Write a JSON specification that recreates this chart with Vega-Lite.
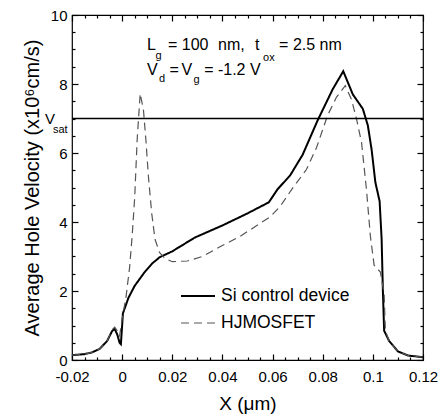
{
  "$schema": "https://vega.github.io/schema/vega-lite/v6.json",
  "width": 351,
  "height": 345,
  "autosize": {"type": "none"},
  "padding": {"left": 72, "top": 15, "right": 22, "bottom": 55},
  "background": "white",
  "config": {
    "view": {"stroke": "black", "strokeWidth": 1.2},
    "font": "Liberation Sans",
    "axis": {"domain": false, "tickColor": "black", "labelColor": "black", "titleColor": "black", "grid": false, "labelFont": "Liberation Sans", "titleFont": "Liberation Sans", "titleFontWeight": "normal", "tickWidth": 1.2}
  },
  "datasets": {
    "curves": [
      {"series": "Si control device", "x": -0.0200, "v": 0.14},
      {"series": "Si control device", "x": -0.0150, "v": 0.17},
      {"series": "Si control device", "x": -0.0120, "v": 0.22},
      {"series": "Si control device", "x": -0.0090, "v": 0.32},
      {"series": "Si control device", "x": -0.0060, "v": 0.55},
      {"series": "Si control device", "x": -0.0040, "v": 0.84},
      {"series": "Si control device", "x": -0.0030, "v": 0.90},
      {"series": "Si control device", "x": -0.0020, "v": 0.75},
      {"series": "Si control device", "x": -0.0010, "v": 0.50},
      {"series": "Si control device", "x": -0.0005, "v": 0.46},
      {"series": "Si control device", "x": 0.0000, "v": 1.00},
      {"series": "Si control device", "x": 0.0003, "v": 1.35},
      {"series": "Si control device", "x": 0.0025, "v": 1.80},
      {"series": "Si control device", "x": 0.0050, "v": 2.15},
      {"series": "Si control device", "x": 0.0090, "v": 2.55},
      {"series": "Si control device", "x": 0.0120, "v": 2.80},
      {"series": "Si control device", "x": 0.0150, "v": 2.98},
      {"series": "Si control device", "x": 0.0200, "v": 3.15},
      {"series": "Si control device", "x": 0.0290, "v": 3.55},
      {"series": "Si control device", "x": 0.0400, "v": 3.90},
      {"series": "Si control device", "x": 0.0500, "v": 4.25},
      {"series": "Si control device", "x": 0.0585, "v": 4.57},
      {"series": "Si control device", "x": 0.0620, "v": 4.95},
      {"series": "Si control device", "x": 0.0670, "v": 5.35},
      {"series": "Si control device", "x": 0.0720, "v": 5.95},
      {"series": "Si control device", "x": 0.0780, "v": 6.95},
      {"series": "Si control device", "x": 0.0840, "v": 7.85},
      {"series": "Si control device", "x": 0.0882, "v": 8.37},
      {"series": "Si control device", "x": 0.0920, "v": 7.70},
      {"series": "Si control device", "x": 0.0960, "v": 7.28},
      {"series": "Si control device", "x": 0.0980, "v": 6.80},
      {"series": "Si control device", "x": 0.0995, "v": 6.10},
      {"series": "Si control device", "x": 0.1010, "v": 5.15},
      {"series": "Si control device", "x": 0.1027, "v": 4.60},
      {"series": "Si control device", "x": 0.1035, "v": 3.50},
      {"series": "Si control device", "x": 0.1040, "v": 2.00},
      {"series": "Si control device", "x": 0.1045, "v": 0.85},
      {"series": "Si control device", "x": 0.1065, "v": 0.55},
      {"series": "Si control device", "x": 0.1100, "v": 0.25},
      {"series": "Si control device", "x": 0.1140, "v": 0.13},
      {"series": "Si control device", "x": 0.1200, "v": 0.08},
      {"series": "HJMOSFET", "x": -0.0200, "v": 0.14},
      {"series": "HJMOSFET", "x": -0.0150, "v": 0.17},
      {"series": "HJMOSFET", "x": -0.0120, "v": 0.22},
      {"series": "HJMOSFET", "x": -0.0090, "v": 0.32},
      {"series": "HJMOSFET", "x": -0.0060, "v": 0.55},
      {"series": "HJMOSFET", "x": -0.0040, "v": 0.88},
      {"series": "HJMOSFET", "x": -0.0030, "v": 0.95},
      {"series": "HJMOSFET", "x": -0.0020, "v": 0.85},
      {"series": "HJMOSFET", "x": -0.0010, "v": 0.70},
      {"series": "HJMOSFET", "x": 0.0000, "v": 1.20},
      {"series": "HJMOSFET", "x": 0.0015, "v": 1.80},
      {"series": "HJMOSFET", "x": 0.0030, "v": 2.70},
      {"series": "HJMOSFET", "x": 0.0040, "v": 3.60},
      {"series": "HJMOSFET", "x": 0.0050, "v": 4.70},
      {"series": "HJMOSFET", "x": 0.0060, "v": 6.40},
      {"series": "HJMOSFET", "x": 0.0072, "v": 7.72},
      {"series": "HJMOSFET", "x": 0.0085, "v": 7.25},
      {"series": "HJMOSFET", "x": 0.0095, "v": 6.35},
      {"series": "HJMOSFET", "x": 0.0105, "v": 5.30},
      {"series": "HJMOSFET", "x": 0.0118, "v": 4.25},
      {"series": "HJMOSFET", "x": 0.0131, "v": 3.50},
      {"series": "HJMOSFET", "x": 0.0149, "v": 3.12},
      {"series": "HJMOSFET", "x": 0.0170, "v": 2.95},
      {"series": "HJMOSFET", "x": 0.0200, "v": 2.85},
      {"series": "HJMOSFET", "x": 0.0260, "v": 2.87},
      {"series": "HJMOSFET", "x": 0.0320, "v": 3.00},
      {"series": "HJMOSFET", "x": 0.0390, "v": 3.28},
      {"series": "HJMOSFET", "x": 0.0470, "v": 3.58},
      {"series": "HJMOSFET", "x": 0.0590, "v": 4.15},
      {"series": "HJMOSFET", "x": 0.0630, "v": 4.45},
      {"series": "HJMOSFET", "x": 0.0680, "v": 4.98},
      {"series": "HJMOSFET", "x": 0.0735, "v": 5.52},
      {"series": "HJMOSFET", "x": 0.0775, "v": 6.15},
      {"series": "HJMOSFET", "x": 0.0820, "v": 7.10},
      {"series": "HJMOSFET", "x": 0.0855, "v": 7.62},
      {"series": "HJMOSFET", "x": 0.0890, "v": 7.95},
      {"series": "HJMOSFET", "x": 0.0915, "v": 7.55},
      {"series": "HJMOSFET", "x": 0.0935, "v": 6.98},
      {"series": "HJMOSFET", "x": 0.0955, "v": 6.30},
      {"series": "HJMOSFET", "x": 0.0975, "v": 4.90},
      {"series": "HJMOSFET", "x": 0.0990, "v": 3.60},
      {"series": "HJMOSFET", "x": 0.1005, "v": 2.75},
      {"series": "HJMOSFET", "x": 0.1030, "v": 2.55},
      {"series": "HJMOSFET", "x": 0.1045, "v": 1.90},
      {"series": "HJMOSFET", "x": 0.1050, "v": 0.85},
      {"series": "HJMOSFET", "x": 0.1065, "v": 0.55},
      {"series": "HJMOSFET", "x": 0.1100, "v": 0.25},
      {"series": "HJMOSFET", "x": 0.1140, "v": 0.13},
      {"series": "HJMOSFET", "x": 0.1200, "v": 0.08}
    ],
    "mainText": [
      {"t": "L", "x": 0.00992, "v": 8.986},
      {"t": "= 100", "x": 0.01829, "v": 8.986},
      {"t": "nm,", "x": 0.03823, "v": 8.986},
      {"t": "t", "x": 0.0530, "v": 8.986},
      {"t": "= 2.5 nm", "x": 0.0626, "v": 8.986},
      {"t": "V", "x": 0.00992, "v": 8.275},
      {"t": "=", "x": 0.0189, "v": 8.275},
      {"t": "V", "x": 0.0237, "v": 8.275},
      {"t": "= -1.2 V", "x": 0.0327, "v": 8.275}
    ],
    "subText": [
      {"t": "g", "x": 0.0133, "v": 8.725},
      {"t": "ox", "x": 0.0562, "v": 8.667},
      {"t": "d", "x": 0.0147, "v": 8.058},
      {"t": "g", "x": 0.0285, "v": 8.029}
    ],
    "vsatMain": [{"t": "V", "x": -0.03077, "v": 7}],
    "vsatSub": [{"t": "sat", "x": -0.02758, "v": 6.58}],
    "vsatLine": [{"v": 7}]
  },
  "resolve": {"axis": {"x": "independent", "y": "independent"}},
  "layer": [
    {
      "data": {"name": "curves"},
      "mark": {"type": "line", "interpolate": "linear"},
      "encoding": {
        "x": {"field": "x", "type": "quantitative",
          "scale": {"domain": [-0.02, 0.12], "nice": false, "zero": false},
          "axis": {"orient": "bottom", "values": [-0.02, 0, 0.02, 0.04, 0.06, 0.08, 0.1, 0.12], "ticks": false,
            "labelExpr": "datum.value + ''",
            "labelPadding": 9, "labelFontSize": 15, "title": "X (μm)", "titleFontSize": 19, "titlePadding": 10, "labelFlush": false, "labelOverlap": false}},
        "y": {"field": "v", "type": "quantitative",
          "scale": {"domain": [0, 10], "nice": false, "zero": false},
          "axis": {"orient": "left", "values": [0, 2, 4, 6, 8, 10], "ticks": false,
            "labelPadding": 5, "labelFontSize": 15, "title": "Average Hole Velocity (x10⁶cm/s)", "titleFontSize": 20, "titlePadding": 8, "labelFlush": false, "labelOverlap": false}},
        "detail": {"field": "series"},
        "color": {"field": "series", "type": "nominal",
          "scale": {"domain": ["Si control device", "HJMOSFET"], "range": ["#000000", "#555555"]},
          "legend": {"title": null, "orient": "none", "legendX": 108, "legendY": 263, "symbolType": "stroke", "symbolSize": 1156, "labelFontSize": 17.5, "labelColor": "black", "labelOffset": 5, "rowPadding": -12, "labelFont": "Liberation Sans"}},
        "strokeDash": {"field": "series", "type": "nominal",
          "scale": {"domain": ["Si control device", "HJMOSFET"], "range": [[1, 0], [8, 5]]},
          "legend": {"title": null, "orient": "none", "legendX": 108, "legendY": 263, "symbolType": "stroke", "symbolSize": 1156, "labelFontSize": 17.5, "labelColor": "black", "labelOffset": 5, "rowPadding": -12, "labelFont": "Liberation Sans"}},
        "strokeWidth": {"field": "series", "type": "nominal",
          "scale": {"domain": ["Si control device", "HJMOSFET"], "range": [2, 1.2]},
          "legend": {"title": null, "orient": "none", "legendX": 108, "legendY": 263, "symbolType": "stroke", "symbolSize": 1156, "labelFontSize": 17.5, "labelColor": "black", "labelOffset": 5, "rowPadding": -12, "labelFont": "Liberation Sans"}}
      }
    },
    {
      "data": {"name": "curves"},
      "mark": {"type": "point", "opacity": 0},
      "encoding": {
        "x": {"field": "x", "type": "quantitative", "scale": {"domain": [-0.02, 0.12], "nice": false, "zero": false},
          "axis": {"orient": "bottom", "offset": -6, "values": [-0.02, 0, 0.02, 0.04, 0.06, 0.08, 0.1, 0.12], "tickSize": 6, "labelOpacity": 0, "labelFontSize": 1, "title": null}},
        "y": {"field": "v", "type": "quantitative", "scale": {"domain": [0, 10], "nice": false, "zero": false},
          "axis": {"orient": "left", "offset": -6, "values": [0, 2, 4, 6, 8, 10], "tickSize": 6, "labelOpacity": 0, "labelFontSize": 1, "title": null}}
      }
    },
    {
      "data": {"name": "curves"},
      "mark": {"type": "point", "opacity": 0},
      "encoding": {
        "x": {"field": "x", "type": "quantitative", "scale": {"domain": [-0.02, 0.12], "nice": false, "zero": false},
          "axis": {"orient": "bottom", "offset": -3, "values": [-0.015, -0.01, -0.005, 0.005, 0.01, 0.015, 0.025, 0.03, 0.035, 0.045, 0.05, 0.055, 0.065, 0.07, 0.075, 0.085, 0.09, 0.095, 0.105, 0.11, 0.115], "tickSize": 3, "labelOpacity": 0, "labelFontSize": 1, "title": null}},
        "y": {"field": "v", "type": "quantitative", "scale": {"domain": [0, 10], "nice": false, "zero": false},
          "axis": {"orient": "left", "offset": -3, "values": [0.5, 1, 1.5, 2.5, 3, 3.5, 4.5, 5, 5.5, 6.5, 7, 7.5, 8.5, 9, 9.5], "tickSize": 3, "labelOpacity": 0, "labelFontSize": 1, "title": null}}
      }
    },
    {
      "data": {"name": "curves"},
      "mark": {"type": "point", "opacity": 0},
      "encoding": {
        "x": {"field": "x", "type": "quantitative", "scale": {"domain": [-0.02, 0.12], "nice": false, "zero": false},
          "axis": {"orient": "top", "offset": -6, "values": [-0.02, 0, 0.02, 0.04, 0.06, 0.08, 0.1, 0.12], "tickSize": 6, "labelOpacity": 0, "labelFontSize": 1, "title": null}},
        "y": {"field": "v", "type": "quantitative", "scale": {"domain": [0, 10], "nice": false, "zero": false},
          "axis": {"orient": "right", "offset": -6, "values": [0, 2, 4, 6, 8, 10], "tickSize": 6, "labelOpacity": 0, "labelFontSize": 1, "title": null}}
      }
    },
    {
      "data": {"name": "curves"},
      "mark": {"type": "point", "opacity": 0},
      "encoding": {
        "x": {"field": "x", "type": "quantitative", "scale": {"domain": [-0.02, 0.12], "nice": false, "zero": false},
          "axis": {"orient": "top", "offset": -3, "values": [-0.015, -0.01, -0.005, 0.005, 0.01, 0.015, 0.025, 0.03, 0.035, 0.045, 0.05, 0.055, 0.065, 0.07, 0.075, 0.085, 0.09, 0.095, 0.105, 0.11, 0.115], "tickSize": 3, "labelOpacity": 0, "labelFontSize": 1, "title": null}},
        "y": {"field": "v", "type": "quantitative", "scale": {"domain": [0, 10], "nice": false, "zero": false},
          "axis": {"orient": "right", "offset": -3, "values": [0.5, 1, 1.5, 2.5, 3, 3.5, 4.5, 5, 5.5, 6.5, 7, 7.5, 8.5, 9, 9.5], "tickSize": 3, "labelOpacity": 0, "labelFontSize": 1, "title": null}}
      }
    },
    {
      "data": {"name": "vsatLine"},
      "mark": {"type": "rule", "color": "black", "strokeWidth": 1.3},
      "encoding": {
        "y": {"field": "v", "type": "quantitative", "scale": {"domain": [0, 10], "nice": false, "zero": false}, "axis": null}
      }
    },
    {
      "data": {"name": "mainText"},
      "mark": {"type": "text", "align": "left", "baseline": "alphabetic", "fontSize": 16, "font": "Liberation Sans", "color": "black"},
      "encoding": {
        "x": {"field": "x", "type": "quantitative", "scale": {"domain": [-0.02, 0.12], "nice": false, "zero": false}, "axis": null},
        "y": {"field": "v", "type": "quantitative", "scale": {"domain": [0, 10], "nice": false, "zero": false}, "axis": null},
        "text": {"field": "t"}
      }
    },
    {
      "data": {"name": "subText"},
      "mark": {"type": "text", "align": "left", "baseline": "alphabetic", "fontSize": 11, "font": "Liberation Sans", "color": "black"},
      "encoding": {
        "x": {"field": "x", "type": "quantitative", "scale": {"domain": [-0.02, 0.12], "nice": false, "zero": false}, "axis": null},
        "y": {"field": "v", "type": "quantitative", "scale": {"domain": [0, 10], "nice": false, "zero": false}, "axis": null},
        "text": {"field": "t"}
      }
    },
    {
      "data": {"name": "vsatMain"},
      "mark": {"type": "text", "align": "left", "baseline": "middle", "fontSize": 15, "font": "Liberation Sans", "color": "black"},
      "encoding": {
        "x": {"field": "x", "type": "quantitative", "scale": {"domain": [-0.02, 0.12], "nice": false, "zero": false}, "axis": null},
        "y": {"field": "v", "type": "quantitative", "scale": {"domain": [0, 10], "nice": false, "zero": false}, "axis": null},
        "text": {"field": "t"}
      }
    },
    {
      "data": {"name": "vsatSub"},
      "mark": {"type": "text", "align": "left", "baseline": "alphabetic", "fontSize": 11, "font": "Liberation Sans", "color": "black"},
      "encoding": {
        "x": {"field": "x", "type": "quantitative", "scale": {"domain": [-0.02, 0.12], "nice": false, "zero": false}, "axis": null},
        "y": {"field": "v", "type": "quantitative", "scale": {"domain": [0, 10], "nice": false, "zero": false}, "axis": null},
        "text": {"field": "t"}
      }
    }
  ]
}
